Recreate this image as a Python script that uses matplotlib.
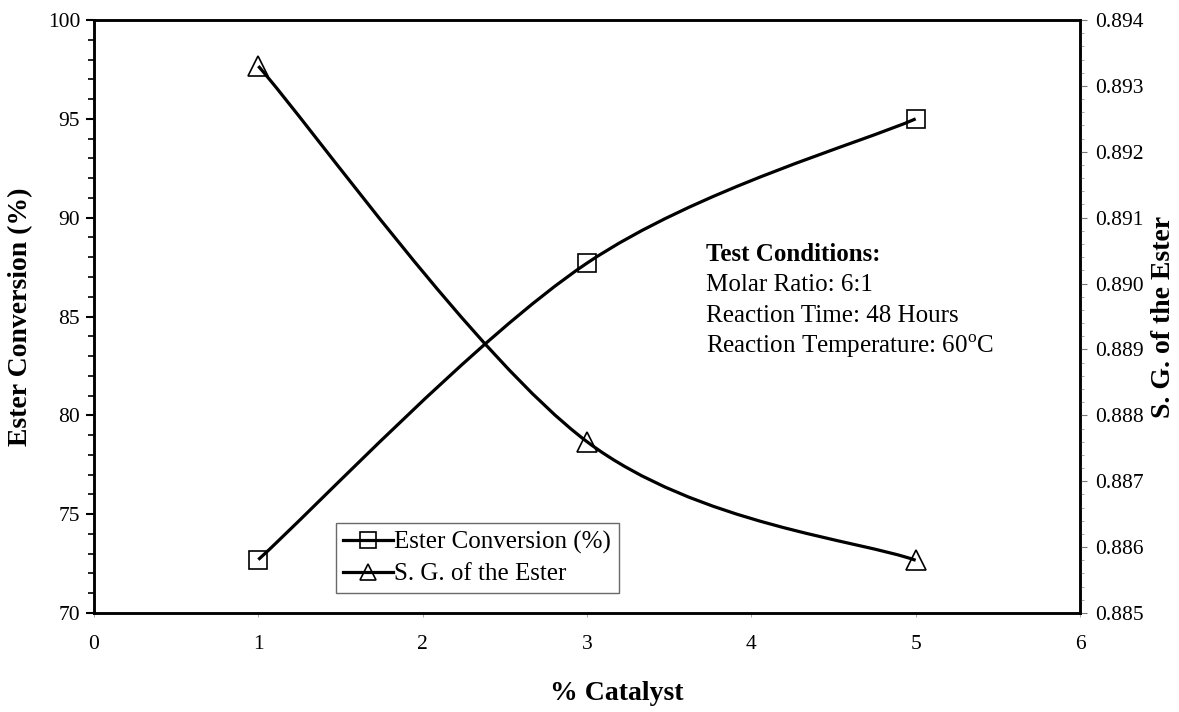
import matplotlib
matplotlib.use("Agg")
import matplotlib.pyplot as plt
from matplotlib.path import Path
from matplotlib.patches import PathPatch
from matplotlib.lines import Line2D
from matplotlib.ticker import MultipleLocator
import numpy as np

plt.rcParams['font.family'] = ['Liberation Serif', 'DejaVu Serif']
plt.rcParams['mathtext.fontset'] = 'custom'
plt.rcParams['mathtext.rm'] = 'Liberation Serif'

catalyst = [1, 3, 5]
ester_conversion = [72.7, 87.7, 95.0]
sg_ester = [0.8933, 0.8876, 0.8858]

x_ticks = [0, 1, 2, 3, 4, 5, 6]
left_ticks = [70, 75, 80, 85, 90, 95, 100]
right_ticks = [0.885, 0.886, 0.887, 0.888, 0.889, 0.890, 0.891, 0.892, 0.893, 0.894]


def smooth_path(xs, ys):
    # Excel-like smoothed line: cubic Bezier segments with Catmull-Rom control points
    pts = np.column_stack([xs, ys]).astype(float)
    n = len(pts)
    verts = [pts[0]]
    codes = [Path.MOVETO]
    for i in range(n - 1):
        p_prev = pts[i - 1] if i > 0 else pts[i]
        p_next2 = pts[i + 2] if i + 2 < n else pts[i + 1]
        c1 = pts[i] + (pts[i + 1] - p_prev) / 6.0
        c2 = pts[i + 1] - (p_next2 - pts[i]) / 6.0
        verts += [c1, c2, pts[i + 1]]
        codes += [Path.CURVE4] * 3
    return Path(verts, codes)


fig = plt.figure(figsize=(11.79, 7.12), dpi=100)
ax = fig.add_axes([94 / 1179, 1 - 613 / 712, (1080 - 94) / 1179, (613 - 20) / 712])
ax2 = ax.twinx()

LW = 2.3
ax.add_patch(PathPatch(smooth_path(catalyst, ester_conversion), fill=False,
                       lw=LW, color='black', capstyle='butt', zorder=3))
ax.plot(catalyst, ester_conversion, ls='none', marker='s', ms=13,
        mfc='none', mec='black', mew=1.2, zorder=4)

ax2.add_patch(PathPatch(smooth_path(catalyst, sg_ester), fill=False,
                        lw=LW, color='black', capstyle='butt', zorder=3))
ax2.plot(catalyst, sg_ester, ls='none', marker='^', ms=14,
         mfc='none', mec='black', mew=1.2, zorder=4)

ax.set_xlim(0, 6)
ax.set_ylim(70, 100)
ax2.set_ylim(0.885, 0.894)
ax.set_xticks(x_ticks)
ax.set_yticks(left_ticks)
ax.yaxis.set_minor_locator(MultipleLocator(1))
ax2.set_yticks(right_ticks)
ax2.set_yticklabels([f"{v:.3f}" for v in right_ticks])
ax2.yaxis.set_minor_locator(MultipleLocator(0.0002))

for a in (ax, ax2):
    for s in a.spines.values():
        s.set_linewidth(1.8)
        s.set_color('black')

ax.tick_params(axis='y', which='major', direction='out', length=6, width=1.5,
               labelsize=15.5, pad=4)
ax.tick_params(axis='y', which='minor', direction='out', length=4, width=1.2)
ax.tick_params(axis='x', which='major', direction='out', length=3, width=0.6,
               color='#999999', labelsize=15.5, pad=13)
ax2.tick_params(axis='y', which='major', direction='out', length=5, width=0.8,
                color='#777777', labelsize=15.5, pad=6)
ax2.tick_params(axis='y', which='minor', direction='out', length=3, width=0.6,
                color='#999999')

ax.set_xlabel('% Catalyst', fontsize=20, fontweight='bold')
ax.set_ylabel('Ester Conversion (%)', fontsize=20, fontweight='bold')
ax2.set_ylabel('S. G. of the Ester', fontsize=20, fontweight='bold', rotation=90)
ax.xaxis.set_label_coords((617 - 94) / 986, (613 - 693) / 593)
ax.yaxis.set_label_coords((21 - 94) / 986, 0.5)
ax2.yaxis.set_label_coords((1164 - 94) / 986, 0.5)
ax.xaxis.label.set_va('center')
ax.yaxis.label.set_va('center')
ax2.yaxis.label.set_va('center')

ax.text(0.621, 0.605, 'Test Conditions:', transform=ax.transAxes,
        fontsize=18, fontweight='bold', va='center', ha='left')
lines = ['Molar Ratio: 6:1', 'Reaction Time: 48 Hours',
         r'Reaction Temperature: 60$^{\mathrm{o}}$C']
for i, t in enumerate(lines):
    ax.text(0.621, 0.605 - 0.052 * (i + 1), t, transform=ax.transAxes,
            fontsize=18, va='center', ha='left')

handles = [Line2D([], [], color='black', lw=LW, marker='s', ms=11, mfc='none',
                  mec='black', mew=1.2),
           Line2D([], [], color='black', lw=LW, marker='^', ms=12, mfc='none',
                  mec='black', mew=1.2)]
leg = ax.legend(handles, ['Ester Conversion (%)', 'S. G. of the Ester'],
                loc='lower left', bbox_to_anchor=(0.245, 0.034), fontsize=18,
                frameon=True, fancybox=False, edgecolor='#444444',
                handlelength=2.0, handletextpad=0.05, borderpad=0.3,
                labelspacing=0.35, borderaxespad=0)
leg.get_frame().set_linewidth(1.0)

fig.savefig('out.png', dpi=100, facecolor='white')
